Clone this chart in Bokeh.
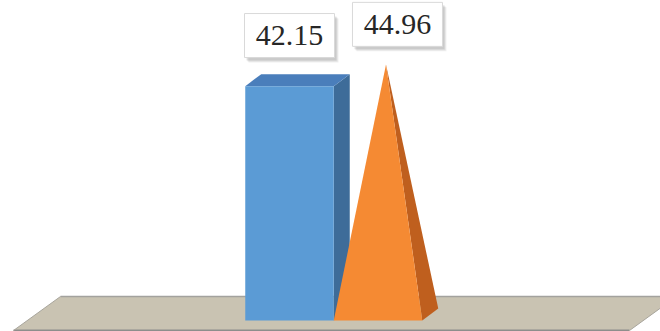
from bokeh.plotting import figure
from bokeh.models import Range1d
from bokeh.core.properties import value
from bokeh.embed import file_html
from bokeh.resources import INLINE

# ---- data ----
categories = ["A", "B"]
values = [42.15, 44.96]
labels = [f"{v:.2f}" for v in values]
shapes = ["box", "pyramid"]

# ---- style / layout constants ----
W, H = 660, 331
BASE_PX = 320.0          # pixel row of value 0 (front of base)
PY = 5.56                # pixels per value unit
C0_PX = 289.0            # pixel centre of first category
CAT_PX = 88.5            # pixels per category
BAR_W = 1.0              # bar width in category units
DX = 16.0 / CAT_PX       # depth offset (x) in category units
DY = 12.0 / PY           # depth offset (y) in value units

front_col = ["#5B9BD5", "#F58A33"]
top_col = ["#4A7EBB", "#F58A33"]
side_col = ["#3E6C99", "#BF5F1E"]


def px2x(px):
    return (px - C0_PX) / CAT_PX


def px2y(py):
    return (BASE_PX - py) / PY


p = figure(width=W, height=H, output_backend="svg", toolbar_location=None,
           x_range=Range1d(px2x(0), px2x(W)), y_range=Range1d(px2y(H), px2y(0)),
           x_axis_type=None, y_axis_type=None, min_border=0)
p.grid.visible = False
p.outline_line_color = None
p.background_fill_color = "white"
p.border_fill_color = "white"

# ---- floor ----
fl_x = [px2x(13), px2x(60), px2x(676), px2x(629)]
fl_y = [px2y(330), px2y(296), px2y(296), px2y(330)]
p.patch(fl_x, fl_y, fill_color="#C9C3B2", line_color=None)
p.line([px2x(60), px2x(676)], [px2y(296), px2y(296)], line_color="#A3A29E", line_width=1.5)
p.line([px2x(13), px2x(629)], [px2y(330), px2y(330)], line_color="#8E8E8C", line_width=2)
p.line([px2x(13), px2x(60)], [px2y(330), px2y(296)], line_color="#A8A59C", line_width=1)
p.line([px2x(629), px2x(676)], [px2y(330), px2y(296)], line_color="#A8A59C", line_width=1)

# ---- bars ----
for i, (v, shp) in enumerate(zip(values, shapes)):
    l = i - BAR_W / 2
    r = i + BAR_W / 2
    if shp == "box":
        # side
        p.patch([r, r + DX, r + DX, r], [0, DY, v + DY, v],
                fill_color=side_col[i], line_color=None)
        # top
        p.patch([l, l + DX, r + DX, r], [v, v + DY, v + DY, v],
                fill_color=top_col[i], line_color=None)
        # front
        p.patch([l, r, r, l], [0, 0, v, v], fill_color=front_col[i], line_color=None)
    else:
        ax = i + DX / 2
        ay = v + DY / 2
        p.patch([r, r + DX, ax], [0, DY, ay], fill_color=side_col[i], line_color=None)
        p.patch([l, r, ax], [0, 0, ay], fill_color=front_col[i], line_color=None)

# ---- data labels ----
LABEL_DX = [0.0, 0.22]
LABEL_DY = [9.1, 8.3]
BOX_W = 90.0 / CAT_PX
BOX_H = 44.0 / PY
lx = [i + d for i, d in enumerate(LABEL_DX)]
ly = [v + d for v, d in zip(values, LABEL_DY)]

for k, (ox, oy, a) in enumerate([(4, 5, 0.12), (3, 4, 0.15), (2, 3, 0.2)]):
    p.rect([x + ox / CAT_PX for x in lx], [y - oy / PY for y in ly], BOX_W, BOX_H,
           fill_color="#7F7F7F", fill_alpha=a, line_color=None)
p.rect(lx, ly, BOX_W, BOX_H, fill_color="white", line_color="#D9D9D9", line_width=1)
p.text(lx, ly, text=labels, text_font=value("Liberation Serif"),
       text_font_size="30px", text_align="center", text_baseline="middle", text_color="#262626")

open("out.html", "w").write(file_html(p, INLINE))
